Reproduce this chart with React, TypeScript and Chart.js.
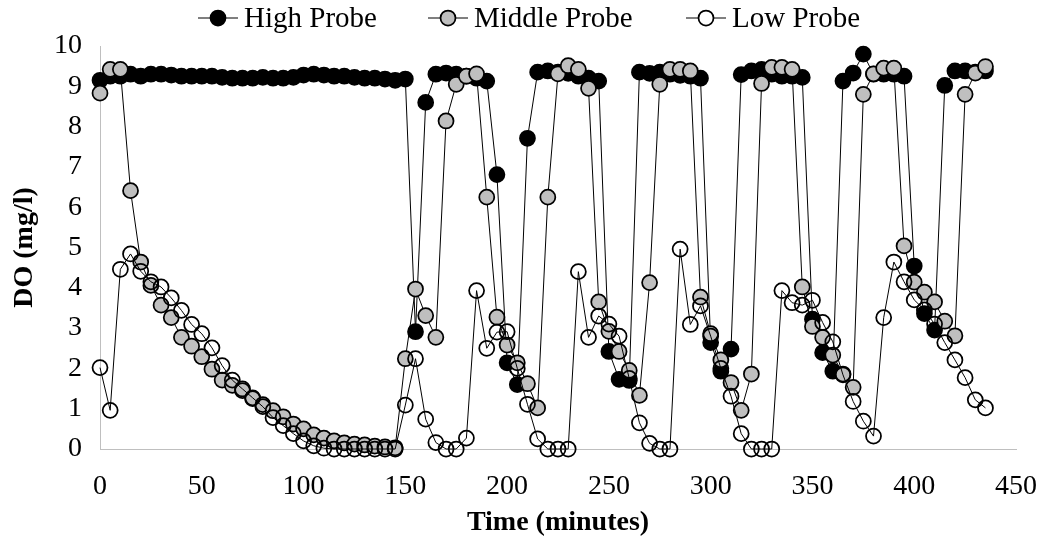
import React, { useEffect, useRef } from "react";
import { Chart, registerables } from "chart.js";

Chart.register(...registerables);

const TIMES: number[] = [
  0, 5, 10, 15, 20, 25, 30, 35, 40, 45, 50, 55, 60, 65, 70, 75, 80, 85, 90, 95,
  100, 105, 110, 115, 120, 125, 130, 135, 140, 145, 150, 155, 160, 165, 170, 175, 180, 185, 190, 195,
  200, 205, 210, 215, 220, 225, 230, 235, 240, 245, 250, 255, 260, 265, 270, 275, 280, 285, 290, 295,
  300, 305, 310, 315, 320, 325, 330, 335, 340, 345, 350, 355, 360, 365, 370, 375, 380, 385, 390, 395,
  400, 405, 410, 415, 420, 425, 430, 435,
];

const HIGH_PROBE: number[] = [
  9.15, 9.25, 9.25, 9.3, 9.25, 9.3, 9.3, 9.28, 9.25, 9.25, 9.25, 9.25, 9.22, 9.2, 9.2, 9.2, 9.22, 9.2, 9.2, 9.22,
  9.28, 9.3, 9.28, 9.25, 9.25, 9.22, 9.2, 9.2, 9.18, 9.15, 9.18, 2.91, 8.6, 9.3, 9.33, 9.3, 9.25, 9.2, 9.13, 6.81,
  2.14, 1.6, 7.71, 9.35, 9.38, 9.35, 9.32, 9.25, 9.2, 9.13, 2.42, 1.73, 1.7, 9.35, 9.32, 9.35, 9.3, 9.27, 9.25, 9.2,
  2.64, 1.93, 2.48, 9.29, 9.38, 9.42, 9.3, 9.25, 9.25, 9.22, 3.22, 2.39, 1.93, 9.13, 9.33, 9.8, 9.3, 9.3, 9.3, 9.25,
  4.54, 3.36, 2.95, 9.02, 9.38, 9.38, 9.35, 9.38,
];

const MIDDLE_PROBE: number[] = [
  8.83, 9.42, 9.42, 6.41, 4.64, 4.06, 3.57, 3.26, 2.77, 2.55, 2.29, 1.98, 1.71, 1.58, 1.45, 1.25, 1.1, 0.95, 0.8, 0.62,
  0.5, 0.35, 0.27, 0.2, 0.15, 0.12, 0.1, 0.07, 0.05, 0.03, 2.24, 3.97, 3.31, 2.77, 8.14, 9.05, 9.25, 9.31, 6.25, 3.27,
  2.58, 2.14, 1.62, 1.02, 6.25, 9.31, 9.51, 9.42, 8.95, 3.65, 2.92, 2.42, 1.95, 1.33, 4.13, 9.05, 9.42, 9.42, 9.38, 3.77,
  2.86, 2.21, 1.65, 0.96, 1.86, 9.07, 9.47, 9.47, 9.42, 4.02, 3.04, 2.77, 2.33, 1.86, 1.53, 8.8, 9.31, 9.45, 9.45, 5.04,
  4.14, 3.89, 3.65, 3.17, 2.81, 8.8, 9.33, 9.49,
];

const LOW_PROBE: number[] = [
  2.02, 0.96, 4.46, 4.84, 4.41, 4.15, 4.02, 3.75, 3.44, 3.09, 2.86, 2.51, 2.07, 1.71, 1.49, 1.27, 1.05, 0.78, 0.58, 0.38,
  0.2, 0.08, 0.02, 0, 0, 0, 0, 0, 0, 0, 1.09, 2.24, 0.74, 0.16, 0, 0, 0.27, 3.93, 2.5, 2.9,
  2.91, 2.0, 1.11, 0.25, 0, 0, 0, 4.4, 2.77, 3.3, 3.1, 2.8, 1.75, 0.65, 0.14, 0, 0, 4.96, 3.09, 3.55,
  2.8, 2.0, 1.31, 0.38, 0, 0, 0, 3.93, 3.63, 3.57, 3.69, 3.14, 2.66, 1.84, 1.18, 0.69, 0.32, 3.26, 4.64, 4.15,
  3.7, 3.45, 3.1, 2.64, 2.21, 1.77, 1.22, 1.02,
];

const SERIES_NAMES = ["High Probe", "Middle Probe", "Low Probe"];
const X_TICK_STEP = 50;
const Y_TICK_STEP = 1;

const FONT_FAMILY = '"Liberation Serif", "Times New Roman", serif';
const FILLS = ["#000000", "#bfbfbf", "rgba(255,255,255,0)"];

const W = 1043;
const H = 545;

const legendPlugin = {
  id: "excelLegend",
  afterDraw(chart: any) {
    const ctx = chart.ctx as CanvasRenderingContext2D;
    const centers = [218, 448, 706];
    const y = 18;
    ctx.save();
    SERIES_NAMES.forEach((name, i) => {
      const cx = centers[i];
      ctx.beginPath();
      ctx.strokeStyle = "#000";
      ctx.lineWidth = 1;
      ctx.moveTo(cx - 20, y);
      ctx.lineTo(cx + 20, y);
      ctx.stroke();
      ctx.beginPath();
      ctx.arc(cx, y, 7.5, 0, Math.PI * 2);
      ctx.fillStyle = i === 2 ? "#ffffff" : FILLS[i];
      ctx.fill();
      ctx.lineWidth = 1.75;
      ctx.stroke();
      ctx.fillStyle = "#000";
      ctx.font = `29px ${FONT_FAMILY}`;
      ctx.textBaseline = "middle";
      ctx.textAlign = "left";
      ctx.fillText(name, cx + 26, y + 1);
    });
    ctx.restore();
  },
};

export default function App() {
  const ref = useRef<HTMLCanvasElement | null>(null);

  useEffect(() => {
    if (!ref.current) return;
    const series = [HIGH_PROBE, MIDDLE_PROBE, LOW_PROBE];
    const datasets = series.map((vals, i) => ({
      label: SERIES_NAMES[i],
      data: TIMES.map((t, k) => ({ x: t, y: vals[k] })),
      borderColor: "#000",
      borderWidth: 1,
      backgroundColor: FILLS[i],
      pointBackgroundColor: FILLS[i],
      pointBorderColor: "#000",
      pointBorderWidth: 1.75,
      pointRadius: 7.5,
      pointHoverRadius: 7.5,
      tension: 0,
      fill: false,
      clip: false as any,
      order: 3 - i,
    }));

    const chart = new Chart(ref.current, {
      type: "line",
      data: { datasets },
      plugins: [legendPlugin],
      options: {
        animation: false,
        responsive: false,
        maintainAspectRatio: false,
        layout: { padding: { top: 46, right: 27, left: 0, bottom: 0 } },
        plugins: { legend: { display: false }, tooltip: { enabled: false } },
        scales: {
          x: {
            type: "linear",
            min: 0,
            max: 450,
            ticks: {
              stepSize: X_TICK_STEP,
              color: "#000",
              font: { family: FONT_FAMILY, size: 28 },
              padding: 21,
              maxRotation: 0,
            },
            grid: { display: false, drawTicks: false },
            border: { display: true, color: "#bfbfbf", width: 1 },
            title: {
              display: true,
              text: "Time (minutes)",
              color: "#000",
              font: { family: FONT_FAMILY, size: 28, weight: "bold" },
              padding: { top: 0, bottom: 5 },
            },
            afterFit: (s: any) => {
              s.height = H - 449;
              s.paddingLeft = 0;
              s.paddingRight = 0;
            },
          },
          y: {
            min: 0,
            max: 10,
            ticks: {
              stepSize: Y_TICK_STEP,
              color: "#000",
              font: { family: FONT_FAMILY, size: 28 },
              padding: 18,
            },
            grid: { display: false, drawTicks: false },
            border: { display: true, color: "#bfbfbf", width: 1 },
            title: {
              display: true,
              text: "DO (mg/l)",
              color: "#000",
              font: { family: FONT_FAMILY, size: 28, weight: "bold" },
              padding: { top: 8, bottom: 0 },
            },
            afterFit: (s: any) => {
              s.width = 100;
              s.paddingTop = 0;
              s.paddingBottom = 0;
            },
          },
        },
      } as any,
    });
    return () => chart.destroy();
  }, []);

  return (
    <div style={{ position: "absolute", left: 0, top: 0, width: W, height: H, background: "#fff" }}>
      <canvas ref={ref} width={W} height={H} style={{ width: W, height: H, display: "block" }} />
    </div>
  );
}
